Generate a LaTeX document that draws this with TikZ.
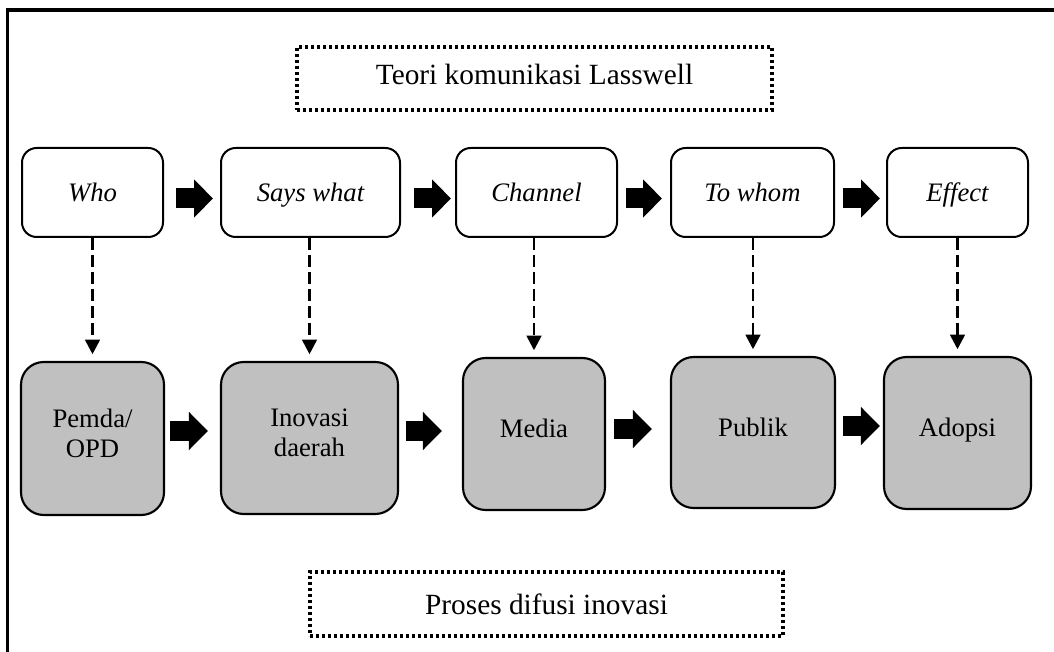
\documentclass[tikz,border=0pt]{standalone}
\usepackage{fontspec}
\setmainfont{Liberation Serif}
\usetikzlibrary{arrows.meta}
\definecolor{grayfill}{RGB}{192,192,192}
\begin{document}
\begin{tikzpicture}[x=0.75pt,y=-0.75pt,
  topbox/.style={draw, line width=1.5pt, rounded corners=11pt, fill=white,
    minimum height=66.75pt, inner sep=0pt, text height=14pt, text depth=0pt,
    font=\fontsize{20}{22}\selectfont\itshape},
  graybox/.style={draw, line width=1.6pt, rounded corners=17pt, fill=grayfill,
    inner sep=0pt, align=center, text depth=8pt,
    font=\fontsize{20}{22.5}\selectfont},
  titlebox/.style={draw, line width=2.4pt, dash pattern=on 2.4pt off 2.1pt,
    inner sep=0pt, font=\fontsize{22}{26}\selectfont},
  blk/.style={line width=15pt, -{Triangle[length=14.25pt,width=27.75pt]}},
  dasharrow/.style={line width=2pt, dash pattern=on 9pt off 3.75pt,
    -{Triangle[length=11pt,width=11pt]}, shorten >=5pt},
  frameline/.style={line width=2.6pt}
]
\useasboundingbox (0,0) rectangle (1054,652);
\fill[white] (0,0) rectangle (1054,652);
\draw[frameline] (1060,10) -- (7.5,10) -- (7.5,660);

% titles
\node[titlebox, minimum width=356.25pt, minimum height=47.25pt, text depth=6pt]
  (tteori) at (534.5,78.5) {Teori komunikasi Lasswell};
\node[titlebox, minimum width=354.75pt, minimum height=48pt]
  (tproses) at (546.5,604) {Proses difusi inovasi};

% top row
\node[topbox, minimum width=105.75pt] (who) at (92.5,192.5) {Who};
\node[topbox, minimum width=134.25pt] (says) at (310.5,192.5) {Says what};
\node[topbox, minimum width=120.75pt] (chan) at (536.5,192.5) {Channel};
\node[topbox, minimum width=122.25pt] (towhom) at (752.5,192.5) {To whom};
\node[topbox, minimum width=105.75pt] (eff) at (957.5,192.5) {Effect};

% bottom row
\node[graybox, minimum width=107.25pt, minimum height=114.75pt] (pemda) at (92.5,438.5) {Pemda/\\OPD};
\node[graybox, minimum width=132.75pt, minimum height=114pt] (inov) at (309.5,438) {Inovasi\\daerah};
\node[graybox, minimum width=106.5pt, minimum height=114pt] (media) at (534,434) {Media};
\node[graybox, minimum width=123pt, minimum height=113.25pt] (publik) at (753,432.5) {Publik};
\node[graybox, minimum width=110.25pt, minimum height=114pt] (adopsi) at (957.5,433) {Adopsi};

% row coordinates for block arrows
\coordinate (rowt) at (0,198.5);
\coordinate (rowb) at (0,431);
\coordinate (rowc) at (0,429);
\coordinate (rowd) at (0,426);

% top block arrows
\draw[blk, shorten <=9pt, shorten >=5.25pt] (who.east |- rowt) -- (says.west |- rowt);
\draw[blk, shorten <=9.75pt, shorten >=3pt] (says.east |- rowt) -- (chan.west |- rowt);
\draw[blk, shorten <=6pt, shorten >=6pt] (chan.east |- rowt) -- (towhom.west |- rowt);
\draw[blk, shorten <=6pt, shorten >=4.5pt] (towhom.east |- rowt) -- (eff.west |- rowt);

% bottom block arrows
\draw[blk, shorten <=3.75pt, shorten >=9pt] (pemda.east |- rowb) -- (inov.west |- rowb);
\draw[blk, shorten <=5.25pt, shorten >=15pt] (inov.east |- rowb) -- (media.west |- rowb);
\draw[blk, shorten <=6pt, shorten >=13.5pt] (media.east |- rowc) -- (publik.west |- rowc);
\draw[blk, shorten <=5.25pt, shorten >=2.25pt] (publik.east |- rowd) -- (adopsi.west |- rowd);

% dashed arrows
\draw[dasharrow] (pemda.north |- who.south) -- (pemda.north);
\draw[dasharrow] (inov.north |- says.south) -- (inov.north);
\draw[dasharrow] (media.north |- chan.south) -- (media.north);
\draw[dasharrow] (publik.north |- towhom.south) -- (publik.north);
\draw[dasharrow] (adopsi.north |- eff.south) -- (adopsi.north);
\end{tikzpicture}
\end{document}
